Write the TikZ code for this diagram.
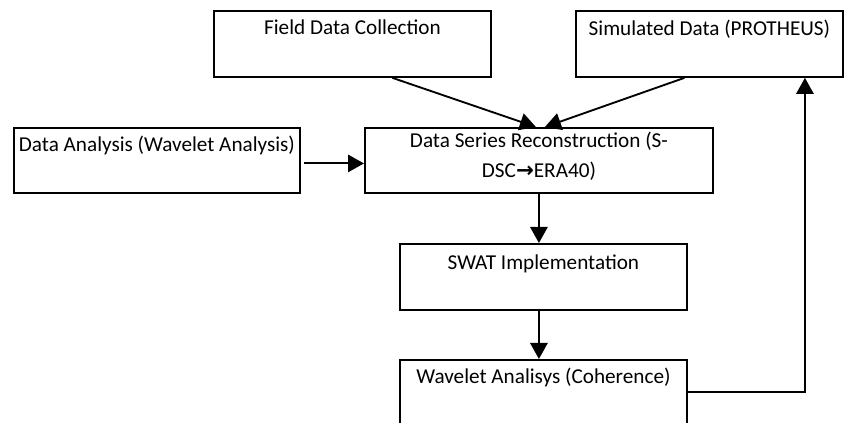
\documentclass[tikz,border=0pt]{standalone}
\usepackage{fontspec}
\setmainfont{Carlito}
\newfontfamily\symfont{DejaVu Sans}
\usetikzlibrary{arrows.meta,calc}
\begin{document}
\begin{tikzpicture}[x=0.75pt,y=-0.75pt,
  box/.style 2 args={draw, line width=1.4pt, inner sep=0pt, anchor=north west,
    minimum width=#1*0.75pt, minimum height=#2*0.75pt},
  lbl/.style={inner sep=0pt, align=center, anchor=base,
    font=\fontsize{15.9}{22.5}\selectfont},
  flow/.style={line width=1.4pt, -{Triangle[length=12pt,width=13pt]}}]
\useasboundingbox (0,0) rectangle (844,423);
\clip (0,0) rectangle (844,423);
\fill[white] (0,0) rectangle (844,423);

% boxes
\node[box={277}{66}] (field) at (213,10) {};
\node[box={267}{66}] (sim) at (575,10) {};
\node[box={286}{65}] (ana) at (13,127) {};
\node[box={348}{65}] (dsr) at (364,127) {};
\node[box={287}{66}] (swat) at (399,243) {};
\node[box={287}{90}] (wav) at (399,359) {};

% labels
\node[lbl] (tfield) at ($(field.north)+(0,25)$) {Field Data Collection};
\node[lbl] (tsim) at ($(sim.north)+(0,26)$) {Simulated Data (PROTHEUS)};
\node[lbl] (tana) at ($(ana.north)+(0,25)$) {Data Analysis (Wavelet Analysis)};
\node[lbl] (tdsr) at ($(dsr.north)+(0,21)$) {Data Series Reconstruction (S-};
\node[lbl] (tdsr2) at ($(tdsr.base)+(0,30)$)
  {DSC{\symfont\bfseries\fontsize{16}{18}\selectfont →}ERA40)};
\node[lbl] (tswat) at ($(swat.north)+(0,27)$) {SWAT Implementation};
\node[lbl] (twav) at ($(wav.north)+(0,25)$) {Wavelet Analisys (Coherence)};

% connectors
\coordinate (spine) at (dsr.south);
\draw[flow] ($(field.south)+(40,0)$) -- ($(dsr.north)+(-3,0)$);
\draw[flow] ($(sim.south)+(-25,0)$) -- ($(dsr.north)+(6,0)$);
\draw[flow] ($(ana.east)+(3,3)$) -- ($(dsr.west)+(0,3)$);
\draw[flow] (spine) -- (spine |- swat.north);
\draw[flow] (spine |- swat.south) -- (spine |- wav.north);
\draw[flow] ($(wav.north east)+(0,33)$) -| ($(sim.south)+(95.5,0)$);
\end{tikzpicture}
\end{document}
